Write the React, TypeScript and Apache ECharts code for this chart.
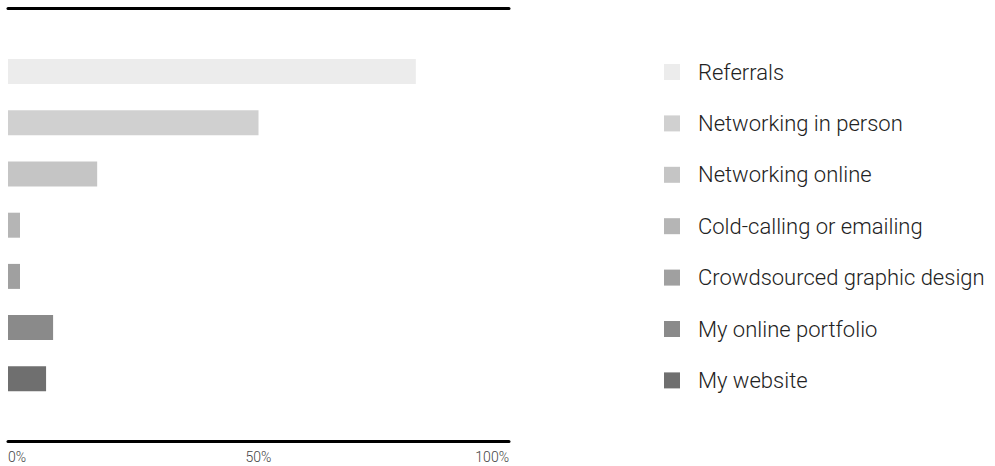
import { useEffect, useRef } from "react";
import * as echarts from "echarts";

const categories = [
  "Referrals",
  "Networking in person",
  "Networking online",
  "Cold-calling or emailing",
  "Crowdsourced graphic design",
  "My online portfolio",
  "My website",
];
const shares = [81.4, 50, 17.8, 2.4, 2.4, 9, 7.6];
const colors = ["#ececec", "#d0d0d0", "#c5c5c5", "#b5b5b5", "#a0a0a0", "#8a8a8a", "#6f6f6f"];
const axisMin = 0;
const axisMax = 100;
const axisInterval = 50;

const FONT = "Roboto";

export default function App() {
  const ref = useRef<HTMLDivElement>(null);
  useEffect(() => {
    document.body.style.margin = "0";
    const chart = echarts.init(ref.current!, undefined, { renderer: "svg" });
    const lineStyle = { color: "#000", width: 3 };
    chart.setOption({
      animation: false,
      backgroundColor: "#fff",
      grid: [
        { left: 8, top: 8.5, width: 501, height: 433 },
        { left: 8, top: 46, width: 501, height: 358.4 },
      ],
      xAxis: [
        {
          gridIndex: 0,
          type: "value",
          position: "bottom",
          min: axisMin,
          max: axisMax,
          interval: axisInterval,
          axisLine: { show: true, onZero: false, lineStyle },
          axisTick: { show: false },
          splitLine: { show: false },
          axisLabel: {
            margin: 8,
            fontSize: 14,
            fontFamily: FONT,
            fontWeight: 300,
            color: "#444",
            formatter: (v: number) => `${v}%`,
            alignMinLabel: "left",
            alignMaxLabel: "right",
          },
        },
        {
          gridIndex: 0,
          type: "value",
          position: "top",
          min: axisMin,
          max: axisMax,
          axisLine: { show: true, onZero: false, lineStyle },
          axisTick: { show: false },
          splitLine: { show: false },
          axisLabel: { show: false },
        },
        {
          gridIndex: 1,
          type: "value",
          min: axisMin,
          max: axisMax,
          show: false,
          splitLine: { show: false },
        },
      ],
      yAxis: [
        { gridIndex: 0, type: "value", show: false, splitLine: { show: false } },
        {
          gridIndex: 1,
          type: "category",
          data: categories,
          inverse: true,
          show: false,
        },
      ],
      legend: {
        data: categories,
        orient: "vertical",
        left: 659,
        top: 56,
        itemWidth: 16,
        itemHeight: 16,
        itemGap: 29.4,
        icon: "rect",
        selectedMode: false,
        itemStyle: { borderWidth: 0 },
        textStyle: {
          fontSize: 22,
          fontFamily: FONT,
          fontWeight: 300,
          color: "#222",
          lineHeight: 20,
          padding: [0, 0, 0, 13],
        },
      },
      series: categories.map((name, i) => ({
        name,
        type: "bar",
        xAxisIndex: 2,
        yAxisIndex: 1,
        barWidth: 25,
        barGap: "-100%",
        itemStyle: { color: colors[i] },
        data: categories.map((_, j) => (j === i ? shares[i] : null)),
      })),
    });
    return () => chart.dispose();
  }, []);
  return <div ref={ref} style={{ width: 995, height: 466 }} />;
}
